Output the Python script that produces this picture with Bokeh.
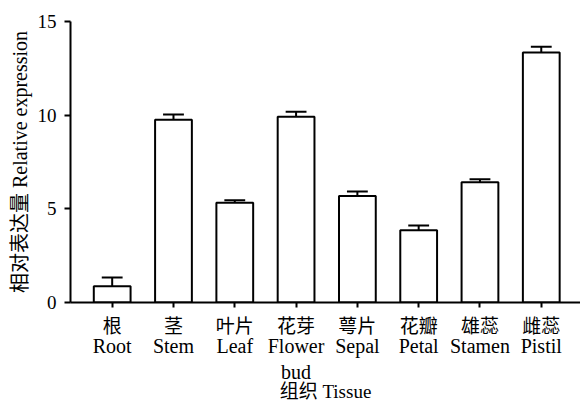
from bokeh.plotting import figure
from bokeh.models import Range1d, FixedTicker, LinearAxis
from bokeh.embed import file_html
from bokeh.resources import INLINE

tissues_cn = ["根", "茎", "叶片", "花芽", "萼片", "花瓣", "雄蕊", "雌蕊"]
tissues_en = ["Root", "Stem", "Leaf", "Flower\nbud", "Sepal", "Petal", "Stamen", "Pistil"]
means = [0.87, 9.75, 5.32, 9.91, 5.69, 3.86, 6.42, 13.35]
errors = [0.46, 0.29, 0.14, 0.27, 0.24, 0.25, 0.16, 0.30]
y_ticks = [0, 5, 10, 15]

FONT = "'Liberation Serif', 'Noto Sans CJK SC'"
SERIF = "'Liberation Serif'"

xs = list(range(len(means)))
p = figure(width=580, height=404, output_backend="svg", toolbar_location=None,
           x_range=Range1d(-0.68, 7.64), y_range=Range1d(0, 15),
           min_border_left=70, min_border_right=0, min_border_top=21, min_border_bottom=102)
p.outline_line_color = None
p.grid.visible = False
p.background_fill_color = "white"

p.vbar(x=xs, top=means, bottom=0, width=0.6, fill_color="white",
       line_color="black", line_width=2)
uppers = [m + e for m, e in zip(means, errors)]
cap = 0.17
p.segment(x0=xs, y0=means, x1=xs, y1=uppers, line_color="black", line_width=2)
p.segment(x0=[x - cap for x in xs], y0=uppers, x1=[x + cap for x in xs], y1=uppers,
          line_color="black", line_width=2)

# Chinese tick labels on the main axis
xa = p.xaxis[0]
xa.ticker = FixedTicker(ticks=xs)
xa.major_label_overrides = {i: c for i, c in enumerate(tissues_cn)}
xa.minor_tick_line_color = None
xa.major_tick_in = 0
xa.major_tick_out = 5
xa.axis_line_width = 2
xa.major_tick_line_width = 2
xa.major_label_text_font = FONT
xa.major_label_text_font_size = "19px"
xa.major_label_text_color = "black"
xa.major_label_standoff = 8

# English tick labels on a second axis below
xb = LinearAxis(ticker=FixedTicker(ticks=xs))
xb.major_label_overrides = {i: e for i, e in enumerate(tissues_en)}
xb.axis_line_color = None
xb.major_tick_line_color = None
xb.minor_tick_line_color = None
xb.major_tick_in = 0
xb.major_tick_out = 0
xb.major_label_text_font = SERIF
xb.major_label_text_font_size = "20px"
xb.major_label_text_color = "black"
xb.major_label_standoff = -5
xb.axis_label = "组织 Tissue"
xb.axis_label_text_font = FONT
xb.axis_label_text_font_size = "19px"
xb.axis_label_text_font_style = "normal"
xb.axis_label_text_color = "black"
xb.axis_label_standoff = -5
p.add_layout(xb, "below")

ya = p.yaxis[0]
ya.ticker = FixedTicker(ticks=y_ticks)
ya.minor_tick_line_color = None
ya.major_tick_in = 0
ya.major_tick_out = 6
ya.axis_line_width = 2
ya.major_tick_line_width = 2
ya.major_label_text_font = FONT
ya.major_label_text_font_size = "19px"
ya.major_label_text_color = "black"
ya.major_label_standoff = 8
ya.axis_label = "相对表达量 Relative expression"
ya.axis_label_text_font = FONT
ya.axis_label_text_font_size = "20px"
ya.axis_label_text_font_style = "normal"
ya.axis_label_text_color = "black"
ya.axis_label_standoff = 4

open("out.html", "w").write(file_html(p, INLINE))
